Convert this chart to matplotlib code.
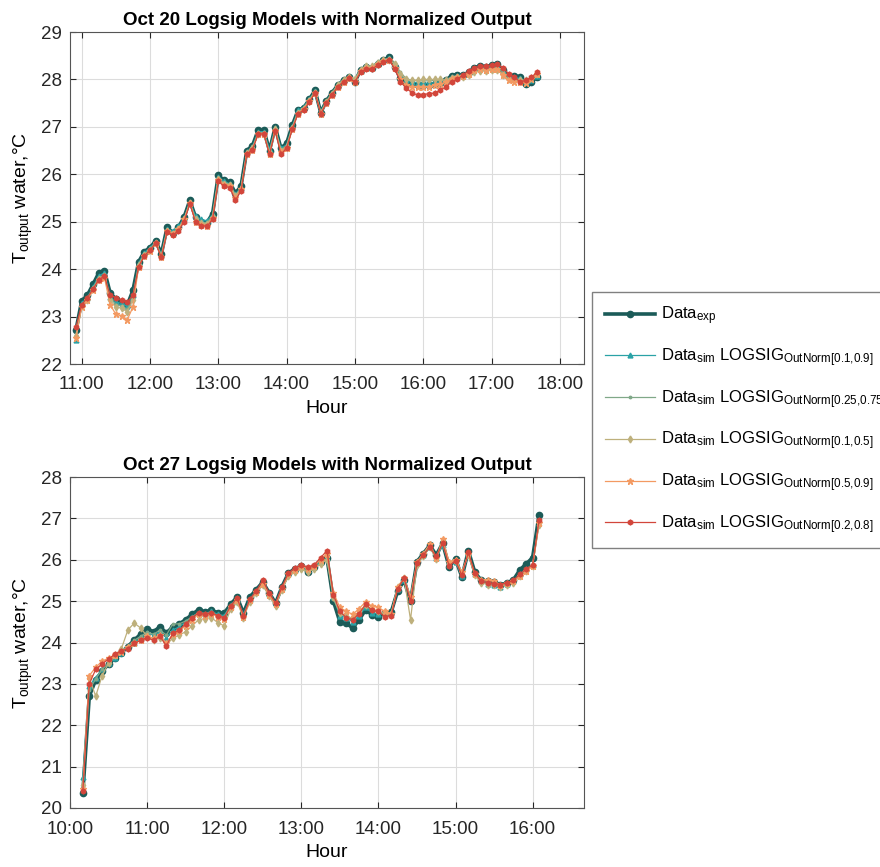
import numpy as np
import pandas as pd
import matplotlib
matplotlib.use('Agg')
import matplotlib.pyplot as plt
import matplotlib.dates as mdates

plt.rcParams['font.family'] = ['Liberation Sans', 'DejaVu Sans']
plt.rcParams['mathtext.fontset'] = 'custom'
plt.rcParams['mathtext.rm'] = 'Liberation Sans'
plt.rcParams['mathtext.it'] = 'Liberation Sans:italic'
plt.rcParams['mathtext.bf'] = 'Liberation Sans:bold'

#%% DATOS Oct 20 (cada 5 min desde 10:55)
t20 = pd.date_range('2000-10-20 10:55', periods=82, freq='5min')
exp20 = [22.72, 23.33, 23.45, 23.68, 23.92, 23.97, 23.50, 23.37, 23.30, 23.24, 23.55, 24.15,
         24.37, 24.45, 24.60, 24.32, 24.88, 24.77, 24.88, 25.10, 25.45, 25.10, 25.00, 24.98,
         25.17, 25.98, 25.87, 25.84, 25.60, 25.75, 26.50, 26.60, 26.93, 26.93, 26.50, 27.00,
         26.55, 26.65, 27.03, 27.35, 27.40, 27.58, 27.77, 27.30, 27.55, 27.72, 27.88, 27.98,
         28.05, 27.95, 28.20, 28.26, 28.24, 28.33, 28.40, 28.47, 28.27, 28.02, 27.93, 27.90,
         27.88, 27.88, 27.88, 27.90, 27.92, 27.98, 28.08, 28.10, 28.09, 28.15, 28.25, 28.28,
         28.26, 28.30, 28.32, 28.20, 28.05, 28.08, 28.05, 27.90, 27.95, 28.05]
s1_20 = [22.50, 23.28, 23.40, 23.62, 23.86, 23.92, 23.42, 23.30, 23.28, 23.22, 23.45, 24.12,
         24.35, 24.45, 24.58, 24.30, 24.85, 24.80, 24.90, 25.08, 25.42, 25.12, 25.05, 25.02,
         25.15, 25.95, 25.85, 25.80, 25.58, 25.72, 26.48, 26.58, 26.90, 26.90, 26.52, 26.98,
         26.55, 26.62, 27.00, 27.35, 27.42, 27.58, 27.75, 27.30, 27.52, 27.70, 27.86, 27.98,
         28.05, 27.98, 28.18, 28.25, 28.25, 28.35, 28.40, 28.45, 28.32, 28.08, 27.98, 27.95,
         27.93, 27.92, 27.92, 27.93, 27.95, 27.98, 28.05, 28.08, 28.10, 28.15, 28.22, 28.25,
         28.25, 28.28, 28.28, 28.18, 28.05, 28.05, 28.02, 27.95, 27.98, 28.08]
s2_20 = [22.62, 23.25, 23.38, 23.60, 23.82, 23.88, 23.40, 23.25, 23.22, 23.15, 23.40, 24.10,
         24.32, 24.42, 24.58, 24.30, 24.82, 24.78, 24.85, 25.05, 25.40, 25.05, 24.98, 24.98,
         25.12, 25.92, 25.82, 25.80, 25.55, 25.70, 26.45, 26.55, 26.88, 26.88, 26.48, 26.95,
         26.52, 26.60, 27.00, 27.32, 27.40, 27.58, 27.75, 27.32, 27.55, 27.72, 27.90, 28.00,
         28.08, 28.00, 28.22, 28.28, 28.28, 28.38, 28.42, 28.45, 28.35, 28.15, 28.02, 27.98,
         27.98, 27.97, 27.97, 27.98, 27.98, 28.00, 28.05, 28.08, 28.08, 28.12, 28.20, 28.22,
         28.22, 28.25, 28.25, 28.15, 28.03, 28.02, 28.00, 27.98, 28.02, 28.10]
s3_20 = [22.60, 23.22, 23.35, 23.58, 23.80, 23.85, 23.35, 23.20, 23.18, 23.10, 23.35, 24.08,
         24.30, 24.40, 24.55, 24.28, 24.80, 24.75, 24.85, 25.05, 25.40, 25.05, 24.98, 24.95,
         25.10, 25.90, 25.80, 25.78, 25.55, 25.70, 26.45, 26.55, 26.85, 26.85, 26.45, 26.95,
         26.50, 26.58, 26.98, 27.30, 27.38, 27.55, 27.72, 27.30, 27.52, 27.70, 27.88, 27.98,
         28.05, 28.00, 28.20, 28.28, 28.28, 28.35, 28.40, 28.42, 28.32, 28.12, 28.00, 27.98,
         27.98, 28.00, 28.00, 28.00, 28.00, 27.98, 28.02, 28.05, 28.05, 28.10, 28.15, 28.18,
         28.18, 28.20, 28.20, 28.10, 28.00, 27.98, 27.98, 27.98, 28.02, 28.12]
s4_20 = [22.55, 23.20, 23.35, 23.55, 23.78, 23.82, 23.25, 23.05, 23.02, 22.93, 23.20, 24.05,
         24.28, 24.38, 24.55, 24.25, 24.80, 24.75, 24.85, 25.05, 25.40, 25.00, 24.93, 24.92,
         25.08, 25.88, 25.78, 25.75, 25.50, 25.68, 26.42, 26.52, 26.85, 26.85, 26.42, 26.92,
         26.48, 26.55, 26.95, 27.28, 27.38, 27.55, 27.72, 27.28, 27.50, 27.68, 27.85, 27.95,
         28.02, 27.95, 28.18, 28.25, 28.25, 28.32, 28.38, 28.40, 28.25, 28.00, 27.88, 27.85,
         27.85, 27.85, 27.85, 27.88, 27.90, 27.95, 28.00, 28.05, 28.08, 28.12, 28.20, 28.22,
         28.20, 28.22, 28.22, 28.10, 27.98, 27.95, 27.95, 27.92, 28.00, 28.12]
s5_20 = [22.78, 23.25, 23.40, 23.58, 23.78, 23.85, 23.45, 23.40, 23.35, 23.30, 23.45, 24.05,
         24.28, 24.40, 24.55, 24.25, 24.78, 24.72, 24.80, 25.00, 25.38, 25.00, 24.92, 24.90,
         25.05, 25.85, 25.75, 25.72, 25.45, 25.65, 26.42, 26.52, 26.85, 26.85, 26.42, 26.92,
         26.42, 26.55, 26.95, 27.28, 27.35, 27.52, 27.72, 27.28, 27.50, 27.68, 27.85, 27.95,
         28.02, 27.95, 28.15, 28.22, 28.22, 28.30, 28.36, 28.42, 28.22, 27.95, 27.82, 27.72,
         27.67, 27.68, 27.70, 27.71, 27.78, 27.84, 27.95, 28.00, 28.10, 28.18, 28.25, 28.28,
         28.28, 28.30, 28.32, 28.25, 28.12, 28.05, 27.95, 27.98, 28.05, 28.15]

#%% DATOS Oct 27 (cada 5 min desde 10:10)
t27 = pd.date_range('2000-10-27 10:10', periods=72, freq='5min')
exp27 = [20.37, 22.70, 23.10, 23.30, 23.48, 23.62, 23.75, 23.90, 24.06, 24.20, 24.33, 24.26,
         24.38, 24.23, 24.38, 24.45, 24.55, 24.68, 24.79, 24.74, 24.78, 24.72, 24.71, 24.92,
         25.10, 24.71, 25.10, 25.28, 25.46, 25.20, 24.95, 25.35, 25.68, 25.78, 25.85, 25.71,
         25.83, 25.95, 26.04, 25.00, 24.50, 24.47, 24.35, 24.55, 24.79, 24.67, 24.62, 24.72,
         24.74, 25.25, 25.50, 25.00, 25.95, 26.15, 26.35, 26.11, 26.40, 25.83, 26.02, 25.58,
         26.22, 25.70, 25.50, 25.48, 25.46, 25.39, 25.44, 25.51, 25.75, 25.90, 26.05, 27.08]
s1_27 = [20.75, 22.95, 23.15, 23.35, 23.50, 23.62, 23.75, 23.88, 24.00, 24.12, 24.22, 24.18,
         24.25, 24.12, 24.30, 24.38, 24.50, 24.62, 24.72, 24.70, 24.75, 24.68, 24.65, 24.90,
         25.05, 24.68, 25.05, 25.25, 25.42, 25.18, 24.95, 25.32, 25.65, 25.75, 25.82, 25.75,
         25.82, 25.95, 26.05, 25.10, 24.65, 24.60, 24.50, 24.65, 24.85, 24.72, 24.68, 24.72,
         24.72, 25.30, 25.52, 25.05, 25.92, 26.12, 26.30, 26.05, 26.35, 25.88, 25.95, 25.60,
         26.15, 25.65, 25.48, 25.42, 25.40, 25.35, 25.42, 25.48, 25.65, 25.78, 25.88, 26.95]
s2_27 = [20.50, 22.85, 23.12, 23.35, 23.50, 23.65, 23.78, 23.92, 24.05, 24.15, 24.25, 24.20,
         24.30, 24.18, 24.45, 24.45, 24.52, 24.62, 24.72, 24.70, 24.72, 24.65, 24.62, 24.90,
         25.05, 24.65, 25.02, 25.22, 25.40, 25.15, 24.90, 25.30, 25.62, 25.72, 25.80, 25.72,
         25.80, 25.92, 26.02, 25.05, 24.70, 24.62, 24.55, 24.70, 24.88, 24.78, 24.72, 24.70,
         24.70, 25.32, 25.55, 25.10, 25.90, 26.10, 26.30, 26.05, 26.38, 25.90, 25.98, 25.65,
         26.15, 25.65, 25.50, 25.45, 25.42, 25.38, 25.42, 25.48, 25.62, 25.75, 25.88, 26.90]
s3_27 = [20.55, 23.15, 22.70, 23.20, 23.50, 23.70, 23.85, 24.30, 24.47, 24.35, 24.15, 24.05,
         24.12, 23.95, 24.10, 24.18, 24.26, 24.40, 24.55, 24.58, 24.60, 24.48, 24.40, 24.80,
         24.98, 24.60, 24.98, 25.20, 25.38, 25.12, 24.88, 25.28, 25.60, 25.70, 25.78, 25.70,
         25.78, 25.90, 26.00, 25.10, 24.72, 24.65, 24.58, 24.75, 24.90, 24.80, 24.75, 24.70,
         24.68, 25.35, 25.55, 24.55, 25.88, 26.08, 26.30, 26.02, 26.45, 25.92, 25.98, 25.70,
         26.12, 25.62, 25.45, 25.40, 25.38, 25.35, 25.40, 25.45, 25.60, 25.72, 25.85, 26.85]
s4_27 = [20.45, 23.20, 23.40, 23.55, 23.62, 23.70, 23.78, 23.88, 24.00, 24.05, 24.15, 24.10,
         24.18, 23.98, 24.20, 24.28, 24.40, 24.55, 24.68, 24.65, 24.70, 24.62, 24.58, 24.85,
         25.02, 24.62, 25.02, 25.22, 25.42, 25.15, 24.92, 25.30, 25.65, 25.75, 25.85, 25.78,
         25.85, 26.00, 26.15, 25.20, 24.85, 24.75, 24.68, 24.82, 24.98, 24.88, 24.85, 24.75,
         24.70, 25.35, 25.55, 25.10, 25.95, 26.15, 26.38, 26.05, 26.50, 25.95, 26.00, 25.70,
         26.15, 25.65, 25.52, 25.50, 25.48, 25.40, 25.45, 25.48, 25.60, 25.72, 25.85, 26.90]
s5_27 = [20.42, 23.00, 23.35, 23.48, 23.60, 23.72, 23.80, 23.85, 23.98, 24.05, 24.12, 24.05,
         24.15, 23.92, 24.22, 24.30, 24.45, 24.60, 24.72, 24.68, 24.72, 24.65, 24.60, 24.88,
         25.08, 24.65, 25.05, 25.25, 25.50, 25.20, 24.95, 25.35, 25.68, 25.80, 25.88, 25.82,
         25.88, 26.05, 26.22, 25.15, 24.75, 24.60, 24.55, 24.70, 24.92, 24.78, 24.75, 24.62,
         24.65, 25.30, 25.55, 25.00, 25.92, 26.12, 26.30, 26.08, 26.40, 25.85, 25.98, 25.62,
         26.18, 25.68, 25.48, 25.45, 25.42, 25.40, 25.45, 25.50, 25.65, 25.78, 25.88, 26.95]

etiquetas = [r'Data$_{\mathrm{exp}}$',
             r'Data$_{\mathrm{sim}}$ LOGSIG$_{\mathrm{OutNorm[0.1{,}0.9]}}$',
             r'Data$_{\mathrm{sim}}$ LOGSIG$_{\mathrm{OutNorm[0.25{,}0.75]}}$',
             r'Data$_{\mathrm{sim}}$ LOGSIG$_{\mathrm{OutNorm[0.1{,}0.5]}}$',
             r'Data$_{\mathrm{sim}}$ LOGSIG$_{\mathrm{OutNorm[0.5{,}0.9]}}$',
             r'Data$_{\mathrm{sim}}$ LOGSIG$_{\mathrm{OutNorm[0.2{,}0.8]}}$']
colores = ['#1b5b58', '#2aa2a6', '#80a888', '#beb07c', '#f39a62', '#d2463b']
marcas = ['o', '^', '.', 'd', '*', 'h']
tam = [4.5, 3.5, 3.5, 3.5, 5, 3.5]
grosor = [2.6, 0.9, 0.9, 0.9, 0.9, 0.9]

#%% GRAFICAR
fig = plt.figure(figsize=(8.8, 8.67), dpi=100)
ax1 = fig.add_axes([70/880, 1-364/867, 514/880, 332/867])
ax2 = fig.add_axes([70/880, 1-808/867, 514/880, 331/867])

def graficar(ax, t, series, titulo, xlim, ylim):
    for k, y in enumerate(series):
        ax.plot(t, y, color=colores[k], marker=marcas[k], ms=tam[k], lw=grosor[k],
                label=etiquetas[k], zorder=2 if k == 0 else 3)
    ax.set_xlim(xlim)
    ax.set_ylim(ylim)
    ax.set_yticks(np.arange(ylim[0], ylim[1] + 1, 1))
    ax.xaxis.set_major_locator(mdates.HourLocator())
    ax.xaxis.set_major_formatter(mdates.DateFormatter('%H:%M'))
    ax.grid(True, color='#dcdcdc', lw=0.8)
    ax.set_axisbelow(True)
    ax.tick_params(direction='in', top=True, right=True, labelsize=13.5,
                   colors='#262626', length=4, pad=6)
    ax.tick_params(axis='x', pad=9)
    for s in ax.spines.values():
        s.set_color('#555555')
    ax.set_title(titulo, fontsize=13.5, fontweight='bold', pad=5)
    ax.set_xlabel('Hour', fontsize=14, labelpad=5)
    ax.set_ylabel(r'T$_{\mathrm{output}}$ water,°C', fontsize=14, labelpad=4)

graficar(ax1, t20, [exp20, s1_20, s2_20, s3_20, s4_20, s5_20],
         'Oct 20 Logsig Models with Normalized Output',
         (pd.Timestamp('2000-10-20 10:49:45'), pd.Timestamp('2000-10-20 18:21:15')), (22, 29))
graficar(ax2, t27, [exp27, s1_27, s2_27, s3_27, s4_27, s5_27],
         'Oct 27 Logsig Models with Normalized Output',
         (pd.Timestamp('2000-10-27 10:00'), pd.Timestamp('2000-10-27 16:40')), (20, 28))

h, l = ax1.get_legend_handles_labels()
fig.legend(h, l, loc='upper left', bbox_to_anchor=(592/880, 1-292/867),
           borderaxespad=0, fontsize=12, frameon=True, fancybox=False, framealpha=1,
           edgecolor='#808080', handlelength=3.0, handletextpad=0.4,
           labelspacing=1.15, borderpad=0.75)

plt.savefig('out.png', dpi=100)
